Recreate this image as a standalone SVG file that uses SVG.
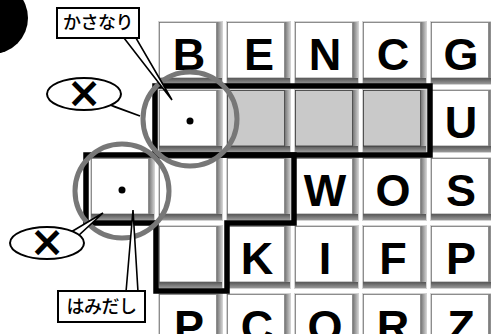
<svg xmlns="http://www.w3.org/2000/svg" xmlns:xlink="http://www.w3.org/1999/xlink" width="491" height="334" viewBox="0 0 491 334">
<style>
.ltr{font-family:"Liberation Sans",Arial,sans-serif;font-weight:bold;font-size:45px;fill:#000;text-anchor:middle}
.jp{font-family:"Noto Sans CJK JP",sans-serif;font-weight:500;font-size:18px;letter-spacing:-0.5px;fill:#000;text-anchor:middle}
.x{font-family:"DejaVu Sans",sans-serif;font-weight:bold;font-size:42px;fill:#000;text-anchor:middle}
.thick{fill:none;stroke:#000;stroke-width:5.5;stroke-linejoin:miter}
.ring{fill:none;stroke:#777;stroke-width:5}
.call{fill:#fff;stroke:#000;stroke-width:2}
.ptr{fill:#fff;stroke:#000;stroke-width:1.6;stroke-linejoin:miter}
</style>
<defs>
<linearGradient id="rb" x1="0" x2="1" y1="0" y2="0"><stop offset="0" stop-color="#777"/><stop offset="1" stop-color="#c8c8c8"/></linearGradient>
<linearGradient id="bb" x1="0" x2="0" y1="0" y2="1"><stop offset="0" stop-color="#555"/><stop offset="1" stop-color="#999"/></linearGradient>
<g id="tile">
<rect x="0" y="0" width="65" height="64" fill="#d2d2d2"/>
<rect x="59" y="1" width="5" height="62" fill="url(#rb)"/>
<rect x="1" y="57" width="63" height="6" fill="url(#bb)"/>
<rect x="1.5" y="1.5" width="57" height="55.5" fill="#fff" stroke="#666" stroke-width="0.7"/>
</g>
<g id="gtile">
<rect x="0" y="0" width="65" height="64" fill="#d2d2d2"/>
<rect x="59" y="1" width="5" height="62" fill="url(#rb)"/>
<rect x="1" y="57" width="63" height="6" fill="url(#bb)"/>
<rect x="1.5" y="1.5" width="57" height="55.5" fill="#c9c9c9" stroke="#333" stroke-width="0.8"/>
</g>
</defs>
<rect width="491" height="334" fill="#fff"/>
<circle cx="-8" cy="18" r="36" fill="#000"/>

<g id="r1c1"><use xlink:href="#tile" x="158" y="21"/><text class="ltr" x="189" y="70">B</text></g>
<g id="r1c2"><use xlink:href="#tile" x="226" y="21"/><text class="ltr" x="259" y="70">E</text></g>
<g id="r1c3"><use xlink:href="#tile" x="294" y="21"/><text class="ltr" x="325" y="70">N</text></g>
<g id="r1c4"><use xlink:href="#tile" x="362" y="21"/><text class="ltr" x="393" y="70">C</text></g>
<g id="r1c5"><use xlink:href="#tile" x="430" y="21"/><text class="ltr" x="461" y="70">G</text></g>

<g id="r2c1"><use xlink:href="#tile" x="158" y="89"/><circle cx="190" cy="121" r="3.5" fill="#000"/></g>
<g id="r2c2"><use xlink:href="#gtile" x="226" y="89"/></g>
<g id="r2c3"><use xlink:href="#gtile" x="294" y="89"/></g>
<g id="r2c4"><use xlink:href="#gtile" x="362" y="89"/></g>
<g id="r2c5"><use xlink:href="#tile" x="430" y="89"/><text class="ltr" x="461" y="138">U</text></g>

<g id="r3c0"><use xlink:href="#tile" x="90" y="157"/><circle cx="122" cy="190" r="3.5" fill="#000"/></g>
<g id="r3c1"><use xlink:href="#tile" x="158" y="157"/></g>
<g id="r3c2"><use xlink:href="#tile" x="226" y="157"/></g>
<g id="r3c3"><use xlink:href="#tile" x="294" y="157"/><text class="ltr" x="325" y="206">W</text></g>
<g id="r3c4"><use xlink:href="#tile" x="362" y="157"/><text class="ltr" x="393" y="206">O</text></g>
<g id="r3c5"><use xlink:href="#tile" x="430" y="157"/><text class="ltr" x="461" y="206">S</text></g>

<g id="r4c1"><use xlink:href="#tile" x="158" y="225"/></g>
<g id="r4c2"><use xlink:href="#tile" x="226" y="225"/><text class="ltr" x="257" y="274">K</text></g>
<g id="r4c3"><use xlink:href="#tile" x="294" y="225"/><text class="ltr" x="325" y="274">I</text></g>
<g id="r4c4"><use xlink:href="#tile" x="362" y="225"/><text class="ltr" x="393" y="274">F</text></g>
<g id="r4c5"><use xlink:href="#tile" x="430" y="225"/><text class="ltr" x="461" y="274">P</text></g>

<g id="r5c1"><use xlink:href="#tile" x="158" y="293"/><text class="ltr" x="189" y="342">P</text></g>
<g id="r5c2"><use xlink:href="#tile" x="226" y="293"/><text class="ltr" x="257" y="342">C</text></g>
<g id="r5c3"><use xlink:href="#tile" x="294" y="293"/><text class="ltr" x="325" y="342">O</text></g>
<g id="r5c4"><use xlink:href="#tile" x="362" y="293"/><text class="ltr" x="393" y="342">R</text></g>
<g id="r5c5"><use xlink:href="#tile" x="430" y="293"/><text class="ltr" x="461" y="342">Z</text></g>

<g id="piece1"><rect class="thick" x="155" y="86" width="275" height="69"/></g>
<g id="piece2"><path class="thick" d="M86 155 H294 V223 H227 V291 H156 V223 H86 Z"/></g>

<g id="ring1"><circle class="ring" cx="190" cy="119" r="47"/></g>
<g id="ring2"><circle class="ring" cx="122" cy="191" r="47"/></g>

<g id="connectors">
<path class="ptr" d="M124 38 L172 100 L136 38 Z"/>
<path class="ptr" d="M126 292 L133 210 L138 292 Z"/>
<path class="ptr" d="M108 104 L140 116 L115 107 Z"/>
<path class="ptr" d="M71 232 L103 213 L79 235 Z"/>
</g>

<g id="callout-kasanari"><rect class="call" x="57" y="8" width="82" height="30"/><text class="jp" x="98" y="29">かさなり</text></g>
<g id="callout-hamidashi"><rect class="call" x="58" y="291" width="87" height="31"/><text class="jp" x="101.5" y="313">はみだし</text></g>
<g id="bubble1"><ellipse class="call" cx="84" cy="94" rx="37" ry="16"/><text class="x" x="84" y="107">×</text></g>
<g id="bubble2"><ellipse class="call" cx="47" cy="243" rx="37" ry="16"/><text class="x" x="47" y="256">×</text></g>
</svg>
